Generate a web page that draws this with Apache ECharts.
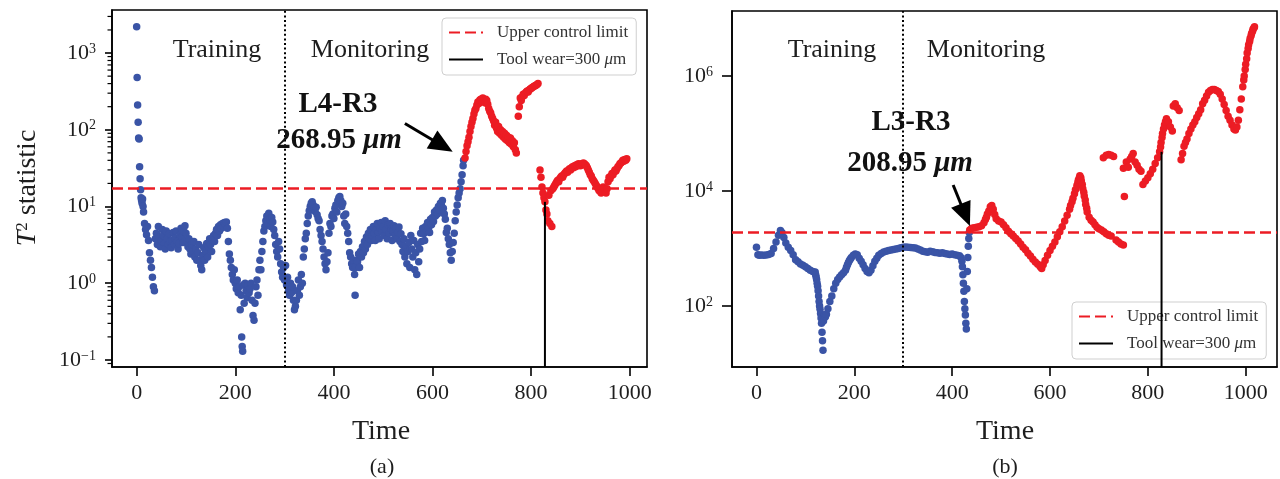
<!DOCTYPE html>
<html>
<head>
<meta charset="utf-8">
<script src="https://cdn.jsdelivr.net/npm/echarts@6/dist/echarts.min.js"></script>
<style>
  html, body { margin: 0; padding: 0; background: #fff; }
  #chart { width: 1280px; height: 479px; }
</style>
</head>
<body>
<div id="chart"></div>
<script>
// ---------------- data ----------------
const xTicks = [0, 200, 400, 600, 800, 1000];
const yTicksA = [0.1, 1, 10, 100, 1000];
const yMinorA = [0.09, 0.2, 0.3, 0.4, 0.5, 0.6, 0.7, 0.8, 0.9, 2, 3, 4, 5, 6, 7, 8, 9,
  20, 30, 40, 50, 60, 70, 80, 90, 200, 300, 400, 500, 600, 700, 800, 900, 2000, 3000];
const yTicksB = [100, 10000, 1000000];

const phaseSplit = 300;       // training / monitoring boundary
const toolWearTime = 828;     // tool wear = 300 um
const uclA = 17.2;
const uclB = 1900;
const toolWearTopA = 11.5;
const toolWearTopB = 48000;

// panel (a) T^2 in control (blue) and out of control (red): [time, value]
const blueA = [
[0,2200],[1,480],[2,210],[3,125],[4,78],[5,76],[6,33],[7,23],[8,16.5],[9,13],[10,12],[11,11],[12,12.5],[13,10],[14,8.5],[16,6],[18,5],[20,4.3],[22,5.5],[24,3.6],[26,2.5],[28,2.0],[30,1.6],[32,1.2],[34,0.9],[36,0.8],[38,3.8],[40,4.5],[42,3.2],[44,5.5],[46,4],[48,3],[50,3.6],[52,5],[54,4.2],[56,3.3],[58,2.8],[60,4.8],[62,3.8],[64,3.2],[66,4.4],[68,3.5],[70,2.9],[72,3.6],[74,4.6],[76,3.2],[78,3.9],[80,4.8],[82,3.5],[84,2.8],[86,3.3],[88,4.3],[90,5.2],[92,4],[94,3.4],[96,4.7],[98,5.6],[100,4.5],[102,3.6],[104,3.0],[106,3.8],[108,2.8],[110,2.4],[112,3.2],[114,2.6],[116,3.5],[118,2.2],[120,2.8],[122,2.0],[124,2.5],[126,3.2],[128,2.0],[130,1.7],[132,1.5],[134,2.3],[136,2.9],[138,2.0],[140,2.6],[142,3.3],[144,2.2],[146,3.0],[148,3.8],[150,3.2],[152,2.6],[154,3.6],[156,4.2],[158,3.5],[160,4.5],[162,5.0],[164,4.2],[166,5.5],[168,4.8],[170,5.8],[172,5.2],[174,6.0],[176,5.5],[178,6.2],[180,5.8],[182,6.3],[184,5.2],[186,3.5],[188,2.4],[190,2.0],[192,1.6],[194,1.3],[196,1.1],[198,1.5],[200,1.0],[202,0.85],[204,1.1],[206,0.75],[208,0.9],[210,0.45],[212,0.7],[213,0.2],[214,0.15],[215,0.13],[216,0.95],[218,0.55],[220,1.0],[222,0.8],[224,0.65],[226,0.95],[228,0.75],[230,0.85],[232,1.0],[234,0.6],[236,0.38],[238,0.33],[240,0.55],[242,0.9],[244,1.1],[246,0.7],[248,1.5],[250,2.0],[252,1.5],[254,2.6],[256,3.5],[258,4.8],[260,5.5],[262,6.5],[264,7.5],[266,6],[268,8.2],[270,6.8],[272,5.5],[274,7.2],[276,6.3],[278,5],[280,4.2],[282,3.2],[284,2.6],[286,2.2],[288,3.5],[290,2.8],[292,1.8],[294,1.4],[296,1.2],[298,1.6],[300,1.1],[302,1.7],[304,0.95],[306,1.2],[308,0.8],[310,0.7],[312,1.0],[314,0.75],[316,0.9],[318,0.6],[320,0.45],[322,0.5],[324,0.6],[326,0.8],[328,1.1],[330,0.7],[332,0.9],[334,1.3],[336,1.0],[338,2.2],[340,2.8],[342,3.8],[344,4.5],[346,6],[348,7.5],[350,8.8],[352,10],[354,11],[356,11.5],[358,10.5],[360,9.5],[362,8.6],[364,9.8],[366,7.8],[368,7],[370,6.5],[372,5],[374,4.2],[376,3.5],[378,2.8],[380,2.2],[382,1.8],[384,1.5],[386,1.9],[388,2.5],[390,4.5],[392,6],[394,5.5],[396,7.5],[398,8],[400,7],[402,9.5],[404,10.5],[406,8.5],[408,12],[410,13],[412,13.5],[414,12],[416,10],[418,11],[420,7.5],[422,6],[424,8],[426,5.5],[428,4.5],[430,3.5],[432,2.5],[434,2.2],[436,1.8],[438,1.6],[440,2.0],[442,1.3],[443,0.7],[444,1.6],[446,2],[448,1.9],[450,2.4],[452,1.6],[454,2.6],[456,2.2],[458,3],[460,2.5],[462,3.5],[464,2.8],[466,4],[468,3.2],[470,4.5],[472,3.8],[474,5],[476,3.6],[478,4.2],[480,5.5],[482,4.4],[484,3.6],[486,5],[488,6],[490,4.6],[492,3.8],[494,5.2],[496,6.2],[498,4.8],[500,5.5],[502,4.2],[504,6.5],[506,5],[508,3.8],[510,5.8],[512,4.5],[514,6],[516,5],[518,3.6],[520,4.8],[522,5.6],[524,4.2],[526,5.2],[528,3.8],[530,4.6],[532,5.4],[534,3.5],[536,4.4],[538,3.2],[540,2.6],[542,3.8],[544,2.2],[546,3.0],[548,1.8],[550,2.6],[552,3.4],[554,1.6],[556,4.2],[558,2.8],[560,2.2],[562,3.6],[564,1.5],[566,2.5],[568,1.3],[570,3.2],[572,1.9],[574,2.8],[576,4.5],[578,3.5],[580,5.2],[582,4.4],[584,3.6],[586,5.5],[588,4.8],[590,6.2],[592,5.2],[594,4.6],[596,6.8],[598,5.8],[600,7.2],[602,6.4],[604,8.5],[606,7.5],[608,9.0],[610,8],[612,10],[614,9],[616,11],[618,10.5],[620,12],[622,9.5],[624,8],[626,6.8],[628,4.6],[630,5.2],[632,3.8],[634,3.2],[636,2.5],[638,2.0],[640,2.6],[642,3.4],[644,4.5],[646,6.5],[648,8.5],[650,10.5],[652,13],[654,15],[656,17],[658,21],[660,26],[662,34],[663,40]
];
const redA = [
[666,43],[668,52],[670,62],[672,70],[674,80],[676,95],[678,110],[680,125],[682,140],[684,160],[686,180],[688,190],[690,210],[692,230],[694,220],[696,245],[698,250],[700,235],[702,260],[704,240],[706,225],[708,250],[710,240],[712,215],[714,190],[716,175],[718,165],[720,150],[722,140],[724,130],[726,115],[728,125],[730,105],[732,95],[734,110],[736,90],[738,100],[740,85],[742,95],[744,80],[746,90],[748,75],[750,85],[752,72],[754,80],[756,68],[758,78],[760,65],[762,72],[764,60],[766,68],[768,55],[770,50],[774,150],[776,200],[778,260],[780,240],[782,270],[784,290],[786,280],[788,300],[790,310],[792,320],[794,310],[796,330],[798,340],[800,345],[802,355],[804,360],[806,370],[808,375],[810,380],[812,390],[814,400],[818,30],[820,24],[822,18],[824,15],[826,13],[828,11.5],[830,9],[832,8],[834,6.5],[836,14],[838,6],[840,16],[842,5.5],[844,17],[846,18],[848,19],[850,20],[852,21],[854,22],[856,21],[858,23],[860,24],[862,25],[864,24],[866,26],[868,27],[870,28],[872,29],[874,28],[876,30],[878,31],[880,30],[882,32],[884,33],[886,32],[888,34],[890,33],[892,35],[894,34],[896,36],[898,35],[900,34],[902,36],[904,35],[906,37],[908,36],[910,35],[912,34],[914,32],[916,30],[918,28],[920,26],[922,25],[924,23],[926,22],[928,21],[930,20],[932,19],[934,18],[936,17],[938,16],[940,17],[942,15],[944,16],[946,18],[948,17],[950,16],[952,15],[954,17],[956,21],[958,24],[960,23],[962,25],[964,27],[966,26],[968,28],[970,30],[972,29],[974,31],[976,33],[978,34],[980,36],[982,37],[984,38],[986,40],[988,39],[990,41],[992,40],[994,42]
];

// panel (b)
const blueB = [
[0,1050],[3,780],[6,760],[10,770],[15,760],[20,770],[25,790],[30,820],[35,1000],[40,1300],[45,1700],[49,2050],[52,1900],[56,1550],[60,1250],[65,1050],[70,920],[75,780],[80,640],[85,590],[90,540],[95,510],[100,480],[105,450],[110,420],[115,400],[120,390],[121,350],[122,320],[123,290],[124,250],[125,220],[126,185],[127,150],[128,120],[129,100],[130,88],[131,74],[132,62],[133,50],[134,35],[135,25],[136,17],[137,55],[138,62],[139,70],[141,65],[143,72],[146,90],[150,120],[154,150],[158,200],[162,250],[166,290],[170,320],[174,350],[178,380],[182,420],[184,470],[186,520],[188,570],[190,620],[192,660],[194,700],[198,760],[202,800],[206,780],[210,680],[214,600],[218,520],[222,450],[226,400],[230,380],[234,420],[238,500],[242,600],[246,680],[250,760],[255,820],[260,870],[265,900],[270,920],[275,940],[280,960],[285,980],[290,1000],[295,1030],[300,1050],[305,1060],[310,1050],[315,1040],[320,1030],[325,1020],[330,980],[335,940],[340,900],[345,880],[350,860],[355,900],[360,880],[365,850],[370,840],[375,830],[380,840],[385,820],[390,800],[395,790],[400,800],[405,780],[410,760],[415,750],[418,700],[420,600],[421,480],[422,350],[423,250],[424,180],[425,120],[426,90],[427,70],[428,50],[429,40],[430,200],[431,400],[432,700],[433,1100],[434,1500],[435,1900]
];
const redB = [
[436,2100],[440,2250],[445,2300],[450,2350],[455,2400],[460,2500],[465,2800],[468,3200],[470,3500],[472,4000],[475,4500],[478,5300],[481,5600],[484,4800],[487,3900],[490,3300],[495,3000],[500,2900],[505,2600],[510,2300],[515,2000],[520,1800],[525,1650],[530,1500],[535,1350],[540,1200],[545,1050],[550,950],[555,830],[560,740],[565,650],[570,580],[575,530],[580,480],[583,450],[586,520],[590,620],[595,760],[600,920],[605,1100],[610,1300],[615,1600],[620,1950],[625,2400],[630,3000],[635,3800],[640,4800],[642,5600],[645,6500],[647,7500],[650,9000],[652,10500],[655,12500],[657,14000],[658,15500],[660,17000],[661,18500],[663,17000],[664,15000],[666,13000],[667,11000],[669,9500],[670,8200],[672,7000],[673,5800],[675,5000],[676,4300],[680,3500],[684,3100],[688,2900],[692,2600],[696,2350],[700,2200],[705,2100],[710,1950],[715,1800],[720,1700],[725,1650],[735,1400],[740,1300],[745,1200],[750,1150],
[709,38000],[715,42000],[720,43000],[725,42000],[730,40000],[752,8000],[750,25000],[756,32000],[760,26000],[764,36000],[767,40000],[770,45000],[774,32000],[778,28000],[782,24000],[786,22000],[790,13000],[795,15000],[800,17000],[805,20000],[810,24000],[815,30000],[820,38000],[824,48000],[826,58000],[827,70000],[829,85000],[830,100000],[832,120000],[834,140000],[836,160000],[838,180000],[842,160000],[846,130000],[850,110000],[852,300000],[856,330000],[860,280000],[864,250000],[868,35000],[871,45000],[874,60000],[877,70000],[880,80000],[884,100000],[888,120000],[892,140000],[896,160000],[900,190000],[904,220000],[908,260000],[912,330000],[916,380000],[920,450000],[924,520000],[928,560000],[932,580000],[936,580000],[940,560000],[944,540000],[948,480000],[952,400000],[956,320000],[960,250000],[964,200000],[968,170000],[972,140000],[976,120000],[979,115000],[982,130000],[985,170000],[988,260000],[991,400000],[994,650000],[996,850000],[997,1000000],[999,1300000],[1000,1600000],[1002,2000000],[1003,2500000],[1005,3000000],[1006,3500000],[1008,4000000],[1009,4500000],[1011,5000000],[1012,5500000],[1014,6000000],[1015,6500000],[1017,6900000],[1018,7200000]
];

// annotation arrows (data coordinates: [time, T2])
const arrowA = [[544, 121], [620, 62]];
const arrowB = [[402, 12700], [427, 3830]];

// axis extents
const xRangeA = [-50, 1035];
const xRangeB = [-50, 1064];
const yRangeA = [0.081, 3640];
const yRangeB = [8.7, 1.35e7];

// ---------------- style ----------------
const SERIF = "'Liberation Serif','Times New Roman','DejaVu Serif',serif";
const BLUE = '#3a54a6';
const RED = '#ec1c24';
const TXT = '#1e1e1e';

function supFmt(v) {
  const e = Math.round(Math.log10(v));
  return '10{sup|' + (e < 0 ? '\u2212' + (-e) : e) + '}';
}

function xAxisCfg(grid, range) {
  return {
    type: 'value', gridIndex: grid, min: range[0], max: range[1],
    axisLine: { show: true, onZero: false, lineStyle: { color: '#000', width: 1.6 } },
    axisTick: { show: true, customValues: xTicks, length: 9, lineStyle: { color: '#000', width: 1.6 } },
    axisLabel: { customValues: xTicks, formatter: function (v) { return String(v); },
      fontFamily: SERIF, fontSize: 22, color: TXT, margin: 15 },
    splitLine: { show: false }
  };
}
function yAxisCfg(grid, range, ticks, tickLen, margin) {
  return {
    type: 'log', logBase: 10, gridIndex: grid, min: range[0], max: range[1],
    axisLine: { show: true, onZero: false, lineStyle: { color: '#000', width: 1.6 } },
    axisTick: { show: true, customValues: ticks, length: tickLen, lineStyle: { color: '#000', width: 1.6 } },
    axisLabel: {
      customValues: ticks, formatter: supFmt, fontFamily: SERIF, fontSize: 22, color: TXT, margin: margin,
      rich: { sup: { fontFamily: SERIF, fontSize: 14, color: TXT, verticalAlign: 'top', padding: [0, 0, 8, 0] } }
    },
    splitLine: { show: false }, minorTick: { show: false }
  };
}

function legendCfg(left, top) {
  return {
    left: left, top: top, orient: 'vertical', selectedMode: false,
    data: ['Upper control limit', 'Tool wear=300 \u03bcm'],
    itemWidth: 34, itemHeight: 14, itemGap: 10,
    padding: [6, 8, 7, 6],
    itemStyle: { color: 'rgba(0,0,0,0)', opacity: 0, borderWidth: 0 },
    backgroundColor: 'rgba(255,255,255,0.8)', borderColor: '#cfcfcf', borderWidth: 1, borderRadius: 4,
    formatter: function (n) { return n.indexOf('Tool') === 0 ? 'Tool wear=300 {i|\u03bc}m' : n; },
    textStyle: {
      fontFamily: SERIF, fontSize: 17, color: '#333', padding: [0, 0, 0, 9],
      rich: { i: { fontFamily: SERIF, fontSize: 17, fontStyle: 'italic', color: '#333' } }
    }
  };
}

function panelSeries(idx, blue, red, ucl, yMin, twTop, arrow) {
  return [
    { type: 'scatter', name: 'in' + idx, xAxisIndex: idx, yAxisIndex: idx, data: blue,
      symbol: 'circle', symbolSize: 7.5, itemStyle: { color: BLUE, opacity: 1 }, silent: true, z: 3 },
    { type: 'scatter', name: 'out' + idx, xAxisIndex: idx, yAxisIndex: idx, data: red,
      symbol: 'circle', symbolSize: 7.5, itemStyle: { color: RED, opacity: 1 }, silent: true, z: 3 },
    { type: 'line', name: 'Upper control limit', xAxisIndex: idx, yAxisIndex: idx, data: [],
      symbol: 'none', itemStyle: { color: RED }, lineStyle: { color: RED, width: 2.5, type: [11, 5] }, silent: true, z: 4,
      markLine: { silent: true, symbol: ['none', 'none'], label: { show: false },
        lineStyle: { color: RED, width: 2.5, type: [11, 5] }, data: [{ yAxis: ucl }] } },
    { type: 'line', name: 'Tool wear=300 \u03bcm', xAxisIndex: idx, yAxisIndex: idx,
      data: [[toolWearTime, yMin], [toolWearTime, twTop]],
      symbol: 'none', itemStyle: { color: '#000' }, lineStyle: { color: '#000', width: 2 }, silent: true, z: 4 },
    { type: 'line', name: 'phase' + idx, xAxisIndex: idx, yAxisIndex: idx, data: [], symbol: 'none', silent: true, z: 4,
      markLine: { silent: true, symbol: ['none', 'none'], label: { show: false },
        lineStyle: { color: '#000', width: 2, type: [2, 2.6] }, data: [{ xAxis: phaseSplit }] } },
    { type: 'line', name: 'arrow' + idx, xAxisIndex: idx, yAxisIndex: idx, data: [], symbol: 'none', silent: true, z: 6,
      markLine: { silent: true, symbol: ['none', 'triangle'], symbolSize: [21, 24], label: { show: false },
        lineStyle: { color: '#000', width: 3, type: 'solid' }, itemStyle: { color: '#000' },
        data: [[{ coord: arrow[0] }, { coord: arrow[1] }]] } }
  ];
}

const minorTickSeries = {
  type: 'custom', name: 'minorA', xAxisIndex: 0, yAxisIndex: 0, silent: true, clip: false, z: 5,
  data: yMinorA.map(v => [xRangeA[0], v]),
  renderItem: function (params, api) {
    const p = api.coord([api.value(0), api.value(1)]);
    return { type: 'line', shape: { x1: p[0] - 4.5, y1: p[1], x2: p[0], y2: p[1] },
      style: { stroke: '#000', lineWidth: 1.2 } };
  }
};

function txt(x, y, text, size, extra) {
  return Object.assign({ type: 'text', x: x, y: y, silent: true, z: 100,
    style: Object.assign({ text: text, fontFamily: SERIF, fontSize: size, fill: TXT,
      align: 'center', verticalAlign: 'middle' }, extra || {}) });
}
const boldRich = { bi: { fontFamily: SERIF, fontSize: 29, fontWeight: 'bold', fontStyle: 'italic', fill: '#111' } };

const chart = echarts.init(document.getElementById('chart'), null, { renderer: 'canvas' });
chart.setOption({
  animation: false,
  backgroundColor: '#fff',
  grid: [
    { left: 112, top: 10, width: 535, height: 357, show: true, borderColor: '#000', borderWidth: 1.6, backgroundColor: 'transparent' },
    { left: 732, top: 11, width: 545, height: 356, show: true, borderColor: '#000', borderWidth: 1.6, backgroundColor: 'transparent' }
  ],
  xAxis: [xAxisCfg(0, xRangeA), xAxisCfg(1, xRangeB)],
  yAxis: [yAxisCfg(0, yRangeA, yTicksA, 7, 16), yAxisCfg(1, yRangeB, yTicksB, 10, 19)],
  legend: [legendCfg(442, 18), legendCfg(1072, 302)],
  series: [].concat(
    panelSeries(0, blueA, redA, uclA, yRangeA[0], toolWearTopA, arrowA),
    panelSeries(1, blueB, redB, uclB, yRangeB[0], toolWearTopB, arrowB),
    [minorTickSeries]
  ),
  graphic: [
    txt(217, 50, 'Training', 26),
    txt(370, 50, 'Monitoring', 26),
    txt(338, 105, 'L4-R3', 29, { fontWeight: 'bold', fill: '#111' }),
    txt(339, 141, '268.95 {bi|\u03bcm}', 29, { fontWeight: 'bold', fill: '#111', rich: boldRich }),
    txt(832, 50, 'Training', 26),
    txt(986, 50, 'Monitoring', 26),
    txt(911, 123, 'L3-R3', 29, { fontWeight: 'bold', fill: '#111' }),
    txt(910, 164, '208.95 {bi|\u03bcm}', 29, { fontWeight: 'bold', fill: '#111', rich: boldRich }),
    txt(381, 432, 'Time', 28),
    txt(1005, 432, 'Time', 28),
    txt(382, 467, '(a)', 22),
    txt(1005, 467, '(b)', 22),
    { type: 'text', x: 28, y: 188, rotation: Math.PI / 2, silent: true, z: 100,
      style: { text: '{it|T}{sup|2} statistic', fontFamily: SERIF, fontSize: 28, fill: TXT,
        align: 'center', verticalAlign: 'middle',
        rich: { it: { fontFamily: SERIF, fontSize: 28, fontStyle: 'italic', fill: TXT },
                sup: { fontFamily: SERIF, fontSize: 17, fill: TXT, verticalAlign: 'top', padding: [0, 0, 10, 0] } } } }
  ]
});
</script>
</body>
</html>
